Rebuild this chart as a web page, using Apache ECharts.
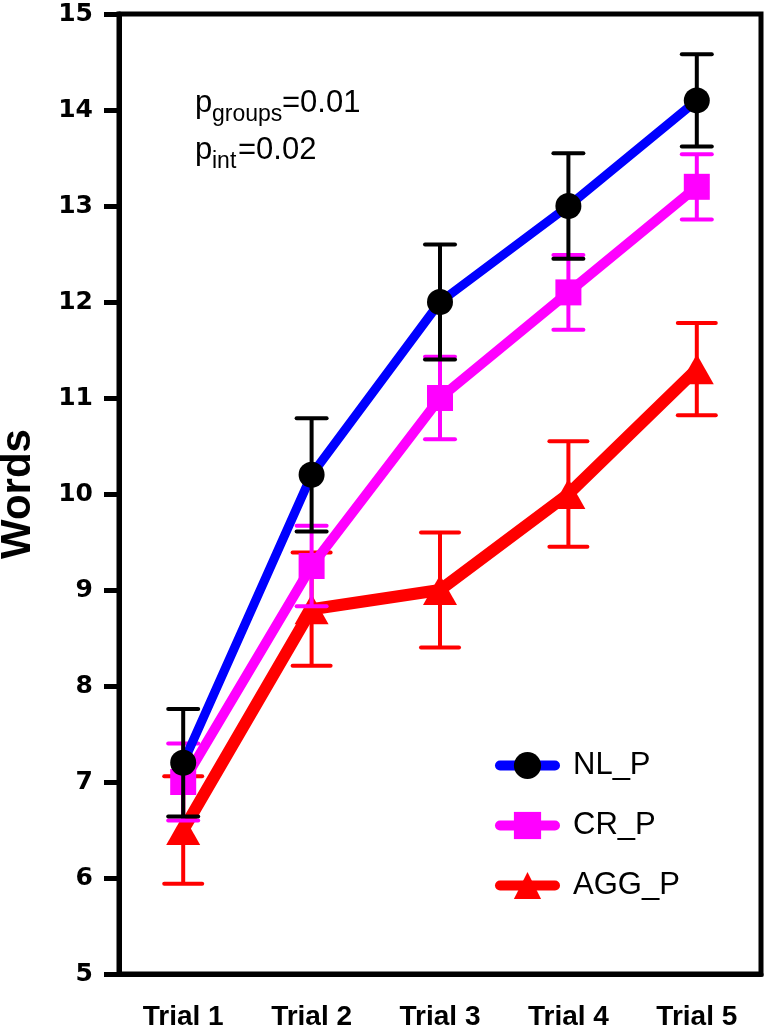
<!DOCTYPE html>
<html>
<head>
<meta charset="utf-8">
<script src="https://cdn.jsdelivr.net/npm/echarts@6/dist/echarts.min.js"></script>
<style>
  html, body { margin: 0; padding: 0; background: #fff; }
  #chart { width: 765px; height: 1029px; }
</style>
</head>
<body>
<div id="chart"></div>
<script>
  // values (mean ± error)
  const trials = ['Trial 1', 'Trial 2', 'Trial 3', 'Trial 4', 'Trial 5'];
  const nlMean = [7.2, 10.2, 12.0, 13.0, 14.1];
  const nlErr = [0.56, 0.59, 0.6, 0.55, 0.48];
  const crMean = [7.0, 9.25, 11.0, 12.1, 13.2];
  const crErr = [0.4, 0.42, 0.43, 0.39, 0.34];
  const aggMean = [6.5, 8.8, 9.0, 10.0, 11.3];
  const aggErr = [0.56, 0.59, 0.6, 0.55, 0.48];
  const yTicks = { min: 5, max: 15, step: 1 };

  const FONT = '"Liberation Sans", Arial, sans-serif';

  const errData = (m, e) => m.map((v, i) => [i, v - e[i], v + e[i]]);

  // vertical bar + two caps
  function errBars(capW, color, lw) {
    return function (params, api) {
      const i = api.value(0);
      const lo = api.coord([i, api.value(1)]);
      const hi = api.coord([i, api.value(2)]);
      const h = capW / 2;
      const st = { stroke: color, lineWidth: lw, lineCap: 'round' };
      return {
        type: 'group',
        children: [
          { type: 'line', shape: { x1: lo[0], y1: lo[1], x2: hi[0], y2: hi[1] }, style: { stroke: color, lineWidth: lw } },
          { type: 'line', shape: { x1: lo[0] - h, y1: lo[1], x2: lo[0] + h, y2: lo[1] }, style: st },
          { type: 'line', shape: { x1: hi[0] - h, y1: hi[1], x2: hi[0] + h, y2: hi[1] }, style: st },
        ],
      };
    };
  }

  // p-value note, subscripts as separate pieces
  const txt = (s, x, y, size) => ({
    type: 'text', x, y, silent: true,
    style: { text: s, fill: '#000', font: size + 'px ' + FONT, align: 'left', verticalAlign: 'middle' },
  });

  const chart = echarts.init(document.getElementById('chart'), null, { renderer: 'canvas' });

  chart.setOption({
    backgroundColor: '#fff',
    animation: false,
    grid: {
      left: 119, right: 4, top: 14, bottom: 55,
      outerBoundsMode: 'none', containLabel: false,
      show: true, borderColor: '#000', borderWidth: 5, backgroundColor: 'transparent',
    },
    legend: {
      data: ['NL_P', 'CR_P', 'AGG_P'],
      orient: 'vertical',
      left: 490, top: 745,
      itemWidth: 55, itemHeight: 34, itemGap: 29,
      lineStyle: { width: 10, cap: 'round' },
      textStyle: { fontFamily: FONT, fontSize: 31, color: '#000', padding: [0, 0, 0, 13] },
    },
    xAxis: {
      type: 'category', data: trials, boundaryGap: true,
      axisLine: { lineStyle: { color: '#000', width: 5 } },
      axisTick: { alignWithLabel: true, length: 15, lineStyle: { color: '#000', width: 5 } },
      axisLabel: { margin: 29, color: '#000', fontFamily: FONT, fontWeight: 'bold', fontSize: 28 },
      splitLine: { show: false },
    },
    yAxis: {
      type: 'value', min: yTicks.min, max: yTicks.max, interval: yTicks.step,
      name: 'Words', nameLocation: 'middle', nameGap: 80, nameRotate: 90,
      nameTextStyle: { fontFamily: FONT, fontWeight: 'bold', fontSize: 42, color: '#000' },
      axisLine: { show: true, lineStyle: { color: '#000', width: 5 } },
      axisTick: { show: true, length: 15, lineStyle: { color: '#000', width: 5 } },
      axisLabel: { margin: 26, color: '#000', fontFamily: '"DejaVu Sans", sans-serif', fontWeight: 'bold', fontSize: 25 },
      splitLine: { show: false },
    },
    graphic: [
      txt('p', 195, 103, 31), txt('groups', 212, 115, 23), txt('=0.01', 282, 103, 31),
      txt('p', 195, 150, 31), txt('int', 212, 162, 23), txt('=0.02', 238, 150, 31),
    ],
    series: [
      {
        name: 'AGG_P', type: 'line', data: aggMean, z: 2,
        symbol: 'triangle', symbolSize: [34, 30],
        lineStyle: { color: '#ff0000', width: 12 },
        itemStyle: { color: '#ff0000' },
      },
      {
        name: 'AGG_P err', type: 'custom', z: 3,
        data: errData(aggMean, aggErr),
        renderItem: errBars(38, '#ff0000', 4),
      },
      {
        name: 'CR_P', type: 'line', data: crMean, z: 4,
        symbol: 'rect', symbolSize: 26,
        lineStyle: { color: '#ff00ff', width: 10 },
        itemStyle: { color: '#ff00ff' },
      },
      {
        name: 'CR_P err', type: 'custom', z: 5,
        data: errData(crMean, crErr),
        renderItem: errBars(30, '#ff00ff', 4),
      },
      {
        name: 'NL_P', type: 'line', data: nlMean, z: 6,
        symbol: 'circle', symbolSize: 26,
        lineStyle: { color: '#0000ff', width: 9 },
        itemStyle: { color: '#000' },
      },
      {
        name: 'NL_P err', type: 'custom', z: 7,
        data: errData(nlMean, nlErr),
        renderItem: errBars(30, '#000', 4),
      },
    ],
  });
</script>
</body>
</html>
